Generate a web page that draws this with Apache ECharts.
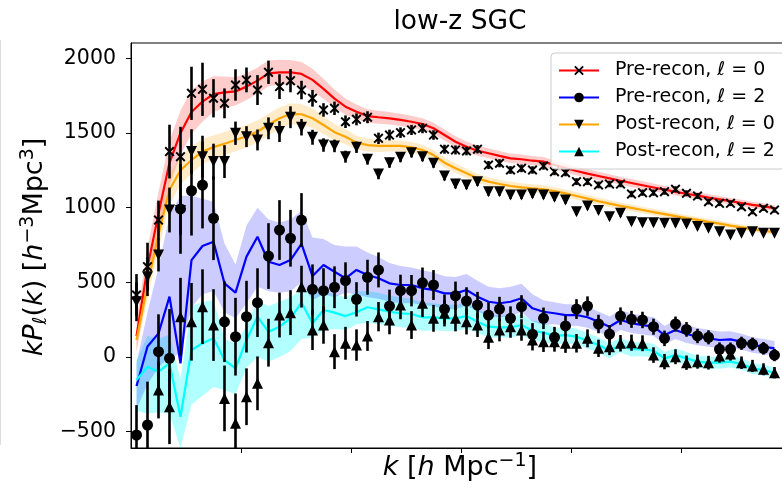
<!DOCTYPE html>
<html><head><meta charset="utf-8">
<script src="https://cdn.jsdelivr.net/npm/echarts@6/dist/echarts.min.js"></script>
<style>html,body{margin:0;padding:0;background:#fff}#c{width:782px;height:488px}</style>
</head><body><div id="c"></div>
<script>
// ---- data ----
const k = [0.0025,0.0075,0.0125,0.0175,0.0225,0.0275,0.0325,0.0375,0.0425,0.0475,
0.0525,0.0575,0.0625,0.0675,0.0725,0.0775,0.0825,0.0875,0.0925,0.0975,
0.1025,0.1075,0.1125,0.1175,0.1225,0.1275,0.1325,0.1375,0.1425,0.1475,
0.1525,0.1575,0.1625,0.1675,0.1725,0.1775,0.1825,0.1875,0.1925,0.1975,
0.2025,0.2075,0.2125,0.2175,0.2225,0.2275,0.2325,0.2375,0.2425,0.2475,
0.2525,0.2575,0.2625,0.2675,0.2725,0.2775,0.2825,0.2875,0.2925];

const yTicks = [-500, 0, 500, 1000, 1500, 2000];
const xTicks = [0.05, 0.10, 0.15, 0.20, 0.25];

const preL0 = [415,605,917,1375,1341,1765,1792,1732,1698,1821,1855,1787,1906,1810,1850,1787,1732,1654,1665,1575,1591,1605,1464,1486,1502,1520,1531,1486,1391,1386,1379,1391,1285,1297,1252,1263,1252,1279,1241,1234,1174,1174,1152,1158,1158,1091,1100,1100,1107,1123,1096,1078,1040,1029,1029,1006,973,996,984];
const preL0Err = [140,160,130,180,200,178,178,128,100,105,83,100,78,83,78,62,56,45,45,42,40,40,38,36,35,34,33,32,30,30,29,28,27,27,26,26,25,25,24,24,23,23,23,22,22,22,21,21,21,20,20,20,19,19,19,18,18,18,18];

const postL0 = [370,538,683,984,980,1375,1341,1308,1308,1498,1475,1453,1531,1509,1605,1538,1471,1419,1413,1341,1404,1324,1225,1301,1337,1368,1341,1297,1212,1158,1152,1174,1107,1107,1085,1085,1091,1085,1069,1051,973,1011,980,939,962,906,899,899,895,895,891,873,862,839,817,828,839,828,828];
const postL0Err = [130,130,110,150,160,150,140,120,110,78,70,70,73,70,73,55,50,45,42,40,38,36,35,34,33,32,31,30,30,29,28,28,27,27,26,26,25,25,24,24,23,23,22,22,22,21,21,21,20,20,20,19,19,19,18,18,18,18,18];

const preL2 = [-522,-455,36,-9,991,1113,1151,929,236,136,270,364,676,850,795,917,453,444,467,511,386,534,583,341,444,444,497,482,321,410,375,348,281,321,259,337,152,259,132,208,321,341,221,154,274,252,248,203,125,221,185,141,132,52,52,92,87,58,13];
const preL2Err = [200,290,250,330,300,300,290,280,270,260,240,230,220,200,190,180,167,150,140,123,115,117,117,110,107,105,102,100,97,95,92,88,85,82,80,77,75,72,70,68,66,65,62,60,58,57,55,54,52,50,49,48,47,46,45,44,43,42,41];

const postL2 = [null,null,-221,-333,270,236,337,214,-277,-444,-266,-176,96,281,297,471,181,214,36,92,80,141,270,248,348,214,360,259,293,259,236,214,132,181,203,181,114,102,102,92,92,125,58,69,92,96,92,13,-31,2,-38,-31,-38,7,20,-38,-60,-82,-105];
const postL2Err = [0,0,190,250,260,260,250,240,220,200,190,180,160,150,150,140,134,125,117,110,105,100,98,96,95,93,92,90,88,87,85,80,78,76,74,72,70,68,66,64,62,60,58,56,55,54,53,52,51,50,48,47,46,45,44,42,41,40,38];

const preL0Model = [140,600,960,1300,1500,1640,1710,1760,1772,1778,1810,1850,1899,1906,1906,1895,1855,1795,1730,1676,1642,1613,1605,1598,1587,1575,1560,1531,1486,1441,1408,1381,1364,1346,1330,1324,1314,1308,1285,1265,1245,1228,1212,1196,1180,1165,1150,1135,1120,1106,1093,1080,1067,1055,1043,1031,1019,1008,997];
const preL0Band = [110,130,145,150,150,145,135,120,105,95,90,88,86,84,82,80,75,68,60,54,48,45,43,42,41,40,39,38,37,36,35,34,33,33,32,32,31,31,30,30,29,29,28,28,27,27,26,26,25,25,24,24,23,23,22,22,21,21,20];

const postL0Model = [114,480,820,1120,1250,1319,1375,1405,1428,1453,1478,1510,1555,1598,1627,1625,1598,1553,1505,1475,1435,1419,1413,1413,1413,1404,1386,1352,1301,1263,1230,1196,1174,1158,1145,1136,1129,1123,1110,1095,1078,1060,1043,1027,1012,998,984,970,957,943,930,918,905,893,880,868,856,845,835];
const postL0Band = [70,90,100,100,95,90,85,80,78,76,75,74,73,72,70,68,65,60,55,50,46,43,40,38,37,36,35,34,33,32,31,30,29,29,28,28,27,27,26,26,25,25,24,24,23,23,22,22,21,21,20,20,20,19,19,19,18,18,18];

const preL2Model = [-194,70,158,404,-42,649,743,772,493,431,672,805,638,616,649,757,542,616,571,527,583,549,527,493,482,482,460,449,426,426,449,404,370,360,370,393,326,303,293,281,281,266,236,203,248,226,214,203,147,181,154,136,125,114,118,102,80,69,58];
const preL2Lo = [-350,-180,-70,0,20,330,420,440,300,260,360,470,440,430,440,500,380,420,400,430,420,400,390,370,360,360,350,340,320,320,345,305,275,265,275,300,240,215,219,208,209,196,167,135,181,160,150,140,85,120,94,78,68,58,63,48,28,18,8];
const preL2Hi = [-40,300,600,950,1080,1080,1060,1040,760,620,880,1000,920,900,920,980,800,790,750,740,740,700,670,630,610,600,580,565,540,535,555,510,470,460,470,490,420,380,367,354,353,336,305,271,315,292,278,266,209,242,214,194,182,170,173,156,132,120,108];

const postL2Model = [-154,-65,-98,-42,-400,47,92,125,-20,-76,114,270,169,203,259,365,226,315,297,274,300,333,319,303,293,288,266,266,259,259,274,236,203,199,199,214,176,163,141,147,136,109,80,42,80,52,52,42,-9,13,-9,-31,-38,-38,-31,-47,-76,-87,-105];
const postL2Lo = [-360,-380,-370,-380,-700,-320,-260,-200,-220,-250,-70,0,-30,0,40,120,130,180,190,180,220,230,220,210,200,195,175,180,175,175,190,160,130,130,130,145,110,100,86,93,83,57,29,-8,31,4,5,-4,-54,-31,-52,-73,-79,-78,-70,-85,-113,-123,-140];
const postL2Hi = [-20,140,120,150,-150,340,370,380,120,90,210,380,340,370,400,450,426,440,420,400,440,440,430,410,400,390,365,360,350,350,365,320,285,280,275,290,245,230,196,201,189,161,131,92,129,100,99,88,36,57,34,11,3,2,8,-9,-39,-51,-70];

const names = ['Pre-recon, ℓ = 0', 'Pre-recon, ℓ = 2', 'Post-recon, ℓ = 0', 'Post-recon, ℓ = 2'];

// ---- chart ----
const FONT = 'DejaVu Sans';
const CROSS = 'path://M0,1.4L1.4,0L5,3.6L8.6,0L10,1.4L6.4,5L10,8.6L8.6,10L5,6.4L1.4,10L0,8.6L3.6,5Z';

function clampY(cs, y) { return Math.max(cs.y, Math.min(cs.y + cs.height, y)); }

function bandSeries(lo, hi, color) {
  const data = k.map((x, i) => [x, lo[i], hi[i]]);
  return {
    type: 'custom', data, silent: true, z: 1,
    encode: { x: 0, y: [1, 2] },
    renderItem(params, api) {
      if (params.dataIndex !== 0) return null;
      const cs = params.coordSys;
      const top = [], bot = [];
      data.forEach(d => { top.push(api.coord([d[0], d[2]])); bot.push(api.coord([d[0], d[1]])); });
      const pts = top.concat(bot.reverse()).map(p => [p[0], clampY(cs, p[1])]);
      return { type: 'polygon', shape: { points: pts }, style: { fill: color } };
    }
  };
}
function symBand(model, half) {
  return [model.map((v, i) => v - half[i]), model.map((v, i) => v + half[i])];
}
function errSeries(vals, errs) {
  const data = [];
  k.forEach((x, i) => { if (vals[i] != null) data.push([x, vals[i] - errs[i], vals[i] + errs[i]]); });
  return {
    type: 'custom', data, silent: true, z: 3,
    encode: { x: 0, y: [1, 2] },
    renderItem(params, api) {
      const cs = params.coordSys;
      const p1 = api.coord([api.value(0), api.value(1)]);
      const p2 = api.coord([api.value(0), api.value(2)]);
      return { type: 'line', shape: { x1: p1[0], y1: clampY(cs, p1[1]), x2: p2[0], y2: clampY(cs, p2[1]) },
               style: { stroke: '#000', lineWidth: 2.6 } };
    }
  };
}
function pts(vals) {
  const out = [];
  k.forEach((x, i) => { if (vals[i] != null) out.push([x, vals[i]]); });
  return out;
}
function modelSeries(name, vals, color, symbol, rotate) {
  return {
    type: 'line', name, data: pts(vals), showSymbol: false, symbol, symbolRotate: rotate || 0,
    lineStyle: { color, width: 2.2 }, itemStyle: { color: '#000' }, z: 2, silent: true,
    emphasis: { disabled: true }
  };
}
function scatterSeries(vals, symbol, size, rotate) {
  return {
    type: 'scatter', data: pts(vals), symbol, symbolSize: size, symbolRotate: rotate || 0,
    itemStyle: { color: '#000', opacity: 1 }, z: 4, silent: true, emphasis: { disabled: true }
  };
}

const redB = symBand(preL0Model, preL0Band);
const orB = symBand(postL0Model, postL0Band);

const chart = echarts.init(document.getElementById('c'), null, { renderer: 'canvas' });
const LF = 19;
const richLegend = {
  s: { width: 11, fontSize: LF, lineHeight: 20 },
  n: { fontFamily: FONT, fontSize: LF, lineHeight: 20, color: '#000' },
  i: { fontFamily: FONT, fontSize: LF, lineHeight: 20, fontStyle: 'italic', color: '#000' }
};
const AF = 27;
chart.setOption({
  animation: false,
  backgroundColor: '#fff',
  grid: { left: 131, top: 43, width: 660, height: 405, show: true, borderColor: '#000', borderWidth: 1,
          containLabel: false, outerBoundsMode: 'none' },
  xAxis: {
    type: 'value', min: 0, max: 0.3,
    axisLine: { show: true, onZero: false, lineStyle: { color: '#000', width: 1 } },
    axisTick: { show: true, length: 5, customValues: xTicks, lineStyle: { color: '#000', width: 1 } },
    axisLabel: { show: false }, splitLine: { show: false }
  },
  yAxis: {
    type: 'value', min: -609, max: 2102,
    axisLine: { show: true, onZero: false, lineStyle: { color: '#000', width: 1 } },
    axisTick: { show: true, length: 5, customValues: yTicks, lineStyle: { color: '#000', width: 1 } },
    axisLabel: { customValues: yTicks, margin: 15, fontFamily: FONT, fontSize: 20.5, color: '#000',
      formatter: v => (v < 0 ? '\u2212' + Math.abs(v) : String(v)) },
    splitLine: { show: false }
  },
  legend: {
    orient: 'vertical', left: 551, top: 53, z: 10,
    data: names,
    itemWidth: 40, itemHeight: 12, itemGap: 8,
    padding: [8, 10, 8, 7],
    backgroundColor: 'rgba(255,255,255,0.8)', borderColor: '#cccccc', borderWidth: 1, borderRadius: 4,
    textStyle: { fontFamily: FONT, fontSize: LF, color: '#000', rich: richLegend },
    formatter: name => {
      const parts = name.split('ℓ');
      return '{s|}{n|' + parts[0] + '}{i|ℓ}{n|' + parts[1] + '}';
    },
    selectedMode: false
  },
  graphic: [
    { type: 'line', shape: { x1: 0.5, y1: 40, x2: 0.5, y2: 445 }, style: { stroke: '#dddddd', lineWidth: 1 }, silent: true },
    { type: 'text', x: 460, y: 22, silent: true,
      style: { text: 'low-z SGC', fontFamily: FONT, fontSize: 26.5, fill: '#000', align: 'center', verticalAlign: 'middle' } },
    { type: 'text', x: 460, y: 468, silent: true,
      style: {
        text: '{i|k}{n| [}{i|h}{n| Mpc}{sup|\u22121}{n|]}', align: 'center', verticalAlign: 'middle',
        rich: {
          n: { fontFamily: FONT, fontSize: AF, lineHeight: 32, fill: '#000', verticalAlign: 'middle' },
          i: { fontFamily: FONT, fontSize: AF, lineHeight: 32, fontStyle: 'italic', fill: '#000', verticalAlign: 'middle' },
          sup: { fontFamily: FONT, fontSize: 19, lineHeight: 16, fill: '#000', verticalAlign: 'top' }
        }
      } },
    { type: 'text', x: 35, y: 247, rotation: Math.PI / 2, silent: true,
      style: {
        text: '{i|kP}{sub|ℓ}{n|(}{i|k}{n|) [}{i|h}{sup|\u22123}{n|Mpc}{sup|3}{n|]}', align: 'center', verticalAlign: 'middle',
        rich: {
          n: { fontFamily: FONT, fontSize: AF, lineHeight: 32, fill: '#000', verticalAlign: 'middle' },
          i: { fontFamily: FONT, fontSize: AF, lineHeight: 32, fontStyle: 'italic', fill: '#000', verticalAlign: 'middle' },
          sup: { fontFamily: FONT, fontSize: 19, lineHeight: 16, fill: '#000', verticalAlign: 'top' },
          sub: { fontFamily: FONT, fontSize: 19, fontStyle: 'italic', lineHeight: 16, fill: '#000', verticalAlign: 'bottom' }
        }
      } }
  ],
  series: [
    bandSeries(redB[0], redB[1], 'rgba(255,0,0,0.2)'),
    bandSeries(orB[0], orB[1], 'rgba(255,165,0,0.22)'),
    bandSeries(postL2Lo, postL2Hi, 'rgba(0,255,255,0.3)'),
    bandSeries(preL2Lo, preL2Hi, 'rgba(0,0,255,0.2)'),
    modelSeries(names[0], preL0Model, '#ff0000', CROSS),
    modelSeries(names[1], preL2Model, '#0000ff', 'circle'),
    modelSeries(names[2], postL0Model, '#ffa500', 'triangle', 180),
    modelSeries(names[3], postL2Model, '#00ffff', 'triangle'),
    errSeries(preL0, preL0Err),
    errSeries(postL0, postL0Err),
    errSeries(preL2, preL2Err),
    errSeries(postL2, postL2Err),
    scatterSeries(preL0, CROSS, 10),
    scatterSeries(postL0, 'triangle', 11, 180),
    scatterSeries(preL2, 'circle', 11),
    scatterSeries(postL2, 'triangle', 11)
  ]
});
</script></body></html>
